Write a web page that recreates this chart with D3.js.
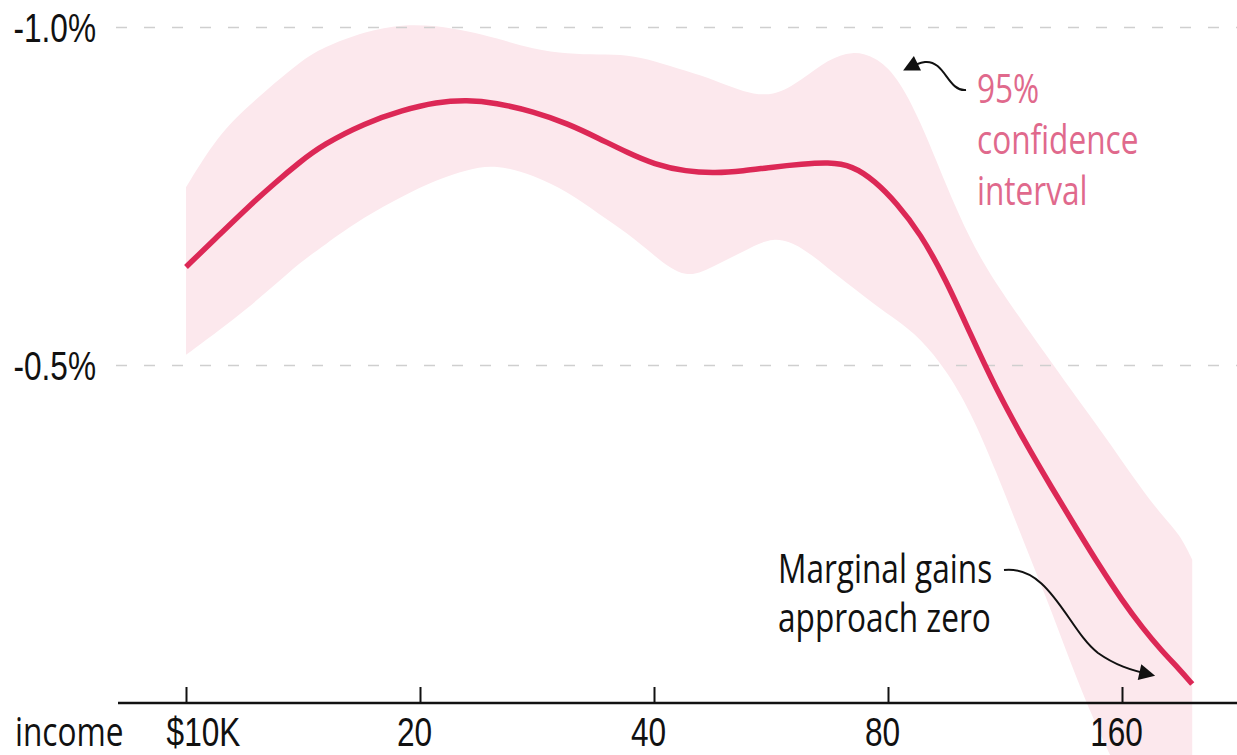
<!DOCTYPE html>
<html>
<head>
<meta charset="utf-8">
<script src="https://cdn.jsdelivr.net/npm/d3@7/dist/d3.min.js"></script>
<style>
  body { margin: 0; background: #fff; }
  svg { display: block; font-family: "Open Sans", "Noto Sans", sans-serif; }
</style>
</head>
<body>
<div id="chart"></div>
<script>

// income in $K (log scale), effect in percent
var income = [10, 11, 12, 13, 14, 15, 17, 19, 21, 23, 25, 28, 31, 34, 37, 40, 44, 48, 52, 57,
              62, 67, 72, 77, 82, 88, 95, 102, 110, 120, 130, 140, 150, 160, 170, 180, 190, 197];
var effect = [-0.645, -0.691, -0.733, -0.769, -0.800, -0.826, -0.858, -0.877, -0.889, -0.892,
              -0.888, -0.875, -0.857, -0.835, -0.814, -0.797, -0.786, -0.784, -0.787, -0.793,
              -0.797, -0.800, -0.795, -0.772, -0.740, -0.695, -0.626, -0.547, -0.466, -0.386,
              -0.318, -0.257, -0.201, -0.152, -0.111, -0.077, -0.049, -0.028];
var upper = [-0.763, -0.840, -0.882, -0.917, -0.948, -0.970, -0.994, -1.004, -1.002, -0.994,
             -0.984, -0.967, -0.960, -0.959, -0.959, -0.950, -0.935, -0.921, -0.904, -0.896,
             -0.922, -0.952, -0.965, -0.956, -0.929, -0.862, -0.766, -0.685, -0.621, -0.559,
             -0.503, -0.451, -0.404, -0.358, -0.315, -0.278, -0.249, -0.212];
var lower = [-0.515, -0.550, -0.584, -0.618, -0.651, -0.676, -0.720, -0.750, -0.774, -0.789,
             -0.797, -0.781, -0.756, -0.723, -0.695, -0.662, -0.625, -0.648, -0.667, -0.692,
             -0.675, -0.643, -0.615, -0.589, -0.567, -0.540, -0.493, -0.433, -0.345, -0.234,
             -0.135, -0.034, 0.047, 0.114, 0.173, 0.232, 0.284, 0.321];

var xTicks = [10, 20, 40, 80, 160];
var xTickLabels = ["$10K", "20", "40", "80", "160"];
var yTicks = [-1.0, -0.5];
var yTickLabels = ["-1.0%", "-0.5%"];

var width = 1237;
var height = 755;
var fontSize = 40;
var SX = 0.79;   // squeeze text horizontally, narrow font look

var data = income.map(function(d, i) {
    return {income: d, effect: effect[i], lo: lower[i], hi: upper[i]};
});

// move x/y into a transform so the glyphs can be narrowed in place
function condense(sel, dx) {
    sel.each(function() {
        var t = d3.select(this);
        var x = (+t.attr("x") || 0) + (dx || 0);
        var y = +t.attr("y") || 0;
        t.attr("x", 0).attr("y", 0)
         .attr("transform", `translate(${x},${y}) scale(${SX},1)`);
    });
}

var svg = d3.select("#chart")
  .append("svg")
    .attr("width", width)
    .attr("height", height);

var xScale = d3.scaleLog()
    .domain([10, 160])
    .range([186, 1122]);

var yScale = d3.scaleLinear()
    .domain([0, -1])
    .range([703, 27]);

var gridLeft = 116;
var axisLeft = 118;

// confidence band
svg.append("path")
    .datum(data)
    .attr("fill", "#fce8ed")
    .attr("d", d3.area().curve(d3.curveBasis)
        .x(d => xScale(d.income))
        .y0(d => yScale(d.lo))
        .y1(d => yScale(d.hi)));

// y gridlines + labels
var yAxis = svg.append("g")
    .attr("transform", `translate(${gridLeft},0)`)
    .call(d3.axisLeft(yScale)
        .tickValues(yTicks)
        .tickSize(-(width - gridLeft))
        .tickPadding(20)
        .tickFormat((d, i) => yTickLabels[i]));
yAxis.select(".domain").remove();
yAxis.selectAll(".tick line")
    .attr("stroke", "#cfcfcf")
    .attr("stroke-width", 1.5)
    .attr("stroke-dasharray", "11,17");
yAxis.selectAll(".tick text")
    .attr("font-family", null)
    .attr("font-size", fontSize)
    .attr("fill", "#111")
    .attr("dy", "0.36em")
    .call(condense);

// estimate line
svg.append("path")
    .datum(data)
    .attr("fill", "none")
    .attr("stroke", "#dc2856")
    .attr("stroke-width", 5.5)
    .attr("d", d3.line().curve(d3.curveBasis)
        .x(d => xScale(d.income))
        .y(d => yScale(d.effect)));

// x axis
var xAxis = svg.append("g")
    .attr("transform", `translate(0,${yScale(0)})`)
    .call(d3.axisBottom(xScale)
        .tickValues(xTicks)
        .tickSize(-16)
        .tickSizeOuter(0)
        .tickPadding(15)
        .tickFormat((d, i) => xTickLabels[i]));
xAxis.select(".domain").remove();
xAxis.append("line")
    .attr("x1", axisLeft)
    .attr("x2", width)
    .attr("stroke", "#111")
    .attr("stroke-width", 2.5);
xAxis.selectAll(".tick line")
    .attr("stroke", "#111")
    .attr("stroke-width", 2);
xAxis.selectAll(".tick text")
    .attr("font-family", null)
    .attr("font-size", fontSize)
    .attr("fill", "#111")
    .each(function(d, i) { d3.select(this).call(condense, i == 0 ? 17 : -6); });

svg.append("text")
    .attr("x", 15)
    .attr("y", 746)
    .attr("font-size", fontSize)
    .attr("fill", "#111")
    .text("income")
    .call(condense);

// annotations
svg.append("defs").append("marker")
    .attr("id", "arrow")
    .attr("viewBox", "0 0 10 10")
    .attr("refX", 8)
    .attr("refY", 5)
    .attr("markerUnits", "userSpaceOnUse")
    .attr("markerWidth", 17)
    .attr("markerHeight", 16)
    .attr("orient", "auto")
  .append("path")
    .attr("d", "M0,0 L10,5 L0,10 z")
    .attr("fill", "#111");

svg.append("path")
    .attr("d", "M966,90 C948,92 945,60 925,62 C918,63 912,66 906,69")
    .attr("fill", "none")
    .attr("stroke", "#111")
    .attr("stroke-width", 2)
    .attr("marker-end", "url(#arrow)");

svg.append("path")
    .attr("d", "M1004,570 C1050,565 1068,630 1098,653 C1115,665 1130,670 1152,675")
    .attr("fill", "none")
    .attr("stroke", "#111")
    .attr("stroke-width", 2)
    .attr("marker-end", "url(#arrow)");

["95%", "confidence", "interval"].forEach(function(t, i) {
    svg.append("text")
        .attr("x", 977)
        .attr("y", 103 + i * 51)
        .attr("font-size", fontSize)
        .attr("fill", "#e0698c")
        .text(t)
        .call(condense);
});

["Marginal gains", "approach zero"].forEach(function(t, i) {
    svg.append("text")
        .attr("x", 778)
        .attr("y", 583 + i * 49)
        .attr("font-size", fontSize)
        .attr("fill", "#111")
        .text(t)
        .call(condense);
});

</script>
</body>
</html>
